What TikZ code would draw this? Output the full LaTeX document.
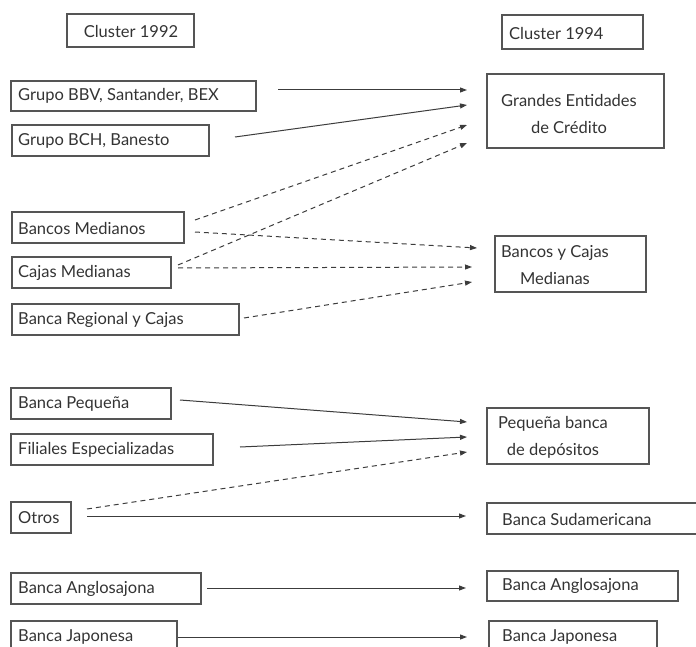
\documentclass[tikz,border=0pt]{standalone}
\usepackage{fontspec}
\setmainfont{Lato}
\usetikzlibrary{arrows.meta}
\definecolor{boxc}{HTML}{555555}
\definecolor{txtc}{HTML}{333333}
\definecolor{linec}{HTML}{3C3C3C}
\begin{document}
\begin{tikzpicture}[x=1pt,y=-1pt,
  box/.style={draw=boxc, line width=1.1pt, inner sep=0pt, rectangle},
  lbl/.style={font=\fontsize{16.5}{27}\selectfont, text=txtc, inner sep=0pt, anchor=west},
  clbl/.style={font=\fontsize{16.5}{27}\selectfont, text=txtc, inner sep=0pt, align=center},
  conn/.style={draw=linec, line width=1pt, -{Triangle[length=7pt,width=5pt]}},
  dconn/.style={conn, dash pattern=on 5pt off 4pt}]
\clip (0,0) rectangle (696,647);
% boxes left
\node[box, minimum width=127pt, minimum height=33pt] (c92) at (130.5,30.5) {};
\node[box, minimum width=245pt, minimum height=30pt] (bbv) at (133.5,96) {};
\node[box, minimum width=197pt, minimum height=31pt] (bch) at (110.5,140.5) {};
\node[box, minimum width=172pt, minimum height=31pt] (bm) at (98,227.5) {};
\node[box, minimum width=159pt, minimum height=31pt] (cm) at (91.5,272.5) {};
\node[box, minimum width=227pt, minimum height=31pt] (brc) at (125.5,319.5) {};
\node[box, minimum width=160pt, minimum height=31pt] (bp) at (91,403.5) {};
\node[box, minimum width=202pt, minimum height=31pt] (fe) at (112,449.5) {};
\node[box, minimum width=60pt, minimum height=31pt] (ot) at (41,517.5) {};
\node[box, minimum width=190pt, minimum height=31pt] (bal) at (106,588.5) {};
\node[box, minimum width=166pt, minimum height=31pt] (bjl) at (94,636.5) {};
% boxes right
\node[box, minimum width=141pt, minimum height=34pt] (c94) at (572.5,32) {};
\node[box, minimum width=177pt, minimum height=74pt] (gec) at (575.5,111) {};
\node[box, minimum width=151pt, minimum height=56pt] (byc) at (570.5,264) {};
\node[box, minimum width=162pt, minimum height=56pt] (pbd) at (568,436) {};
\node[box, minimum width=213pt, minimum height=31pt] (bsu) at (593.5,518.5) {};
\node[box, minimum width=191pt, minimum height=30pt] (bar) at (582.5,586) {};
\node[box, minimum width=168pt, minimum height=31pt] (bjr) at (573,636.5) {};
% texts left
\node[clbl] (c92t) at (131,31) {Cluster 1992};
\node[lbl] (bbvt) at (18,96) {Grupo BBV, Santander, BEX};
\node[lbl] (bcht) at (18,141) {Grupo BCH, Banesto};
\node[lbl] (bmt) at (18,228) {Bancos Medianos};
\node[lbl] (cmt) at (18,273) {Cajas Medianas};
\node[lbl] (brct) at (18,320) {Banca Regional y Cajas};
\node[lbl] (bpt) at (18,404) {Banca Pequeña};
\node[lbl] (fet) at (18,450) {Filiales Especializadas};
\node[lbl] (ott) at (18,518) {Otros};
\node[lbl] (balt) at (18,589) {Banca Anglosajona};
\node[lbl] (bjlt) at (18,637) {Banca Japonesa};
% texts right
\node[lbl] (c94t) at (509,33) {Cluster 1994};
\node[clbl] (gect) at (569,114) {Grandes Entidades\\de Crédito};
\node[clbl] (byct) at (555,265) {Bancos y Cajas\\Medianas};
\node[clbl] (pbdt) at (553,437) {Pequeña banca\\de depósitos};
\node[lbl] (bsut) at (502,519) {Banca Sudamericana};
\node[lbl] (bart) at (502,586) {Banca Anglosajona};
\node[lbl] (bjrt) at (502,637) {Banca Japonesa};
% connector end points
\coordinate (s1) at (278,90);  \coordinate (e1) at (467,90);
\coordinate (s2) at (235,137); \coordinate (e2) at (467,105);
\coordinate (s3) at (195,220); \coordinate (e3) at (467,125);
\coordinate (s4) at (178,265); \coordinate (e4) at (467,143);
\coordinate (s5) at (195,232); \coordinate (e5) at (477,248);
\coordinate (s6) at (178,268); \coordinate (e6) at (472,267);
\coordinate (s7) at (244,318); \coordinate (e7) at (472,282);
\coordinate (s8) at (180,400); \coordinate (e8) at (467,422);
\coordinate (s9) at (240,447); \coordinate (e9) at (467,437);
\coordinate (s10) at (87,509); \coordinate (e10) at (467,452);
\coordinate (s11) at (87,516); \coordinate (e11) at (466,516);
\coordinate (s12) at (207,588); \coordinate (e12) at (466,588);
\coordinate (s13) at (178,637); \coordinate (e13) at (467,637);
% connectors
\draw[conn] (s1) -- (e1);
\draw[conn] (s2) -- (e2);
\draw[dconn] (s3) -- (e3);
\draw[dconn] (s4) -- (e4);
\draw[dconn] (s5) -- (e5);
\draw[dconn] (s6) -- (e6);
\draw[dconn] (s7) -- (e7);
\draw[conn] (s8) -- (e8);
\draw[conn] (s9) -- (e9);
\draw[dconn] (s10) -- (e10);
\draw[conn] (s11) -- (e11);
\draw[conn] (s12) -- (e12);
\draw[conn] (s13) -- (e13);
\end{tikzpicture}
\end{document}
